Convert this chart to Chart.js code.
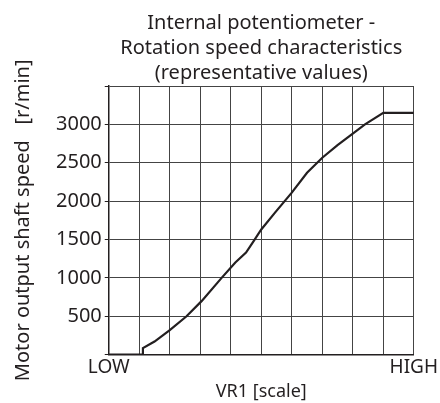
<!DOCTYPE html>
<html>
<head>
<meta charset="utf-8">
<script src="https://cdn.jsdelivr.net/npm/chart.js@4/dist/chart.umd.min.js"></script>
<style>
  html, body { margin: 0; padding: 0; background: #fff; }
  #wrap { width: 440px; height: 403px; }
</style>
</head>
<body>
<div id="wrap"><canvas id="speedChart"></canvas></div>
<script>
// VR1 position (0 = LOW, 10 = HIGH) and motor shaft speed in r/min
const vrScale = [0, 1.1, 1.12, 1.5, 2.0, 2.55, 3.05, 3.7, 4.15, 4.5, 4.75, 5.0, 5.45, 6.0, 6.5, 7.0, 7.5, 8.0, 8.4, 9.0, 10];
const speedRpm = [0, 0, 85, 170, 320, 500, 700, 1000, 1200, 1330, 1480, 1630, 1850, 2110, 2370, 2565, 2730, 2880, 3000, 3150, 3150];
const xTickLabels = { 0: 'LOW', 10: 'HIGH' };
const yTicksShown = [500, 1000, 1500, 2000, 2500, 3000];
const titleLines = ['Internal potentiometer -', 'Rotation speed characteristics', '(representative values)'];

const ink = '#231f20';
const fontFamily = '"Noto Sans", "Open Sans", sans-serif';

const points = vrScale.map((x, i) => ({ x: x, y: speedRpm[i] }));

new Chart(document.getElementById('speedChart'), {
    type: 'line',
    data: {
        datasets: [{
            data: points,
            borderColor: ink,
            borderWidth: 2.2,
            pointRadius: 0,
            tension: 0,
            fill: false
        }]
    },
    options: {
        responsive: true,
        maintainAspectRatio: false,
        animation: false,
        layout: { padding: { top: 11, left: 4, right: 2, bottom: 0 } },
        plugins: {
            legend: { display: false },
            tooltip: { enabled: false },
            title: {
                display: true,
                fullSize: false,
                text: titleLines,
                color: ink,
                font: { family: fontFamily, size: 20, weight: 'normal', lineHeight: 1.25 },
                padding: { top: 0, bottom: 0 }
            }
        },
        scales: {
            x: {
                type: 'linear',
                min: 0,
                max: 10,
                ticks: {
                    stepSize: 1,
                    autoSkip: false,
                    maxRotation: 0,
                    color: ink,
                    padding: 2,
                    font: { family: fontFamily, size: 19 },
                    callback: v => xTickLabels[v] || ''
                },
                grid: { color: '#444', lineWidth: 1, drawTicks: false },
                border: { color: ink, width: 1.5 },
                title: {
                    display: true,
                    text: 'VR1 [scale]',
                    color: ink,
                    font: { family: fontFamily, size: 18 },
                    padding: { top: 0, bottom: 0 }
                }
            },
            y: {
                min: 0,
                max: 3500,
                ticks: {
                    stepSize: 500,
                    color: ink,
                    padding: 3,
                    font: { family: fontFamily, size: 20 },
                    callback: v => yTicksShown.includes(v) ? String(v) : ''
                },
                grid: { color: '#444', lineWidth: 1, tickLength: 4, tickColor: ink },
                border: { color: ink, width: 1.5 },
                title: {
                    display: true,
                    text: 'Motor output shaft speed   [r/min]',
                    color: ink,
                    font: { family: fontFamily, size: 20 },
                    padding: { top: 7, bottom: 18 }
                }
            }
        }
    }
});
</script>
</body>
</html>
